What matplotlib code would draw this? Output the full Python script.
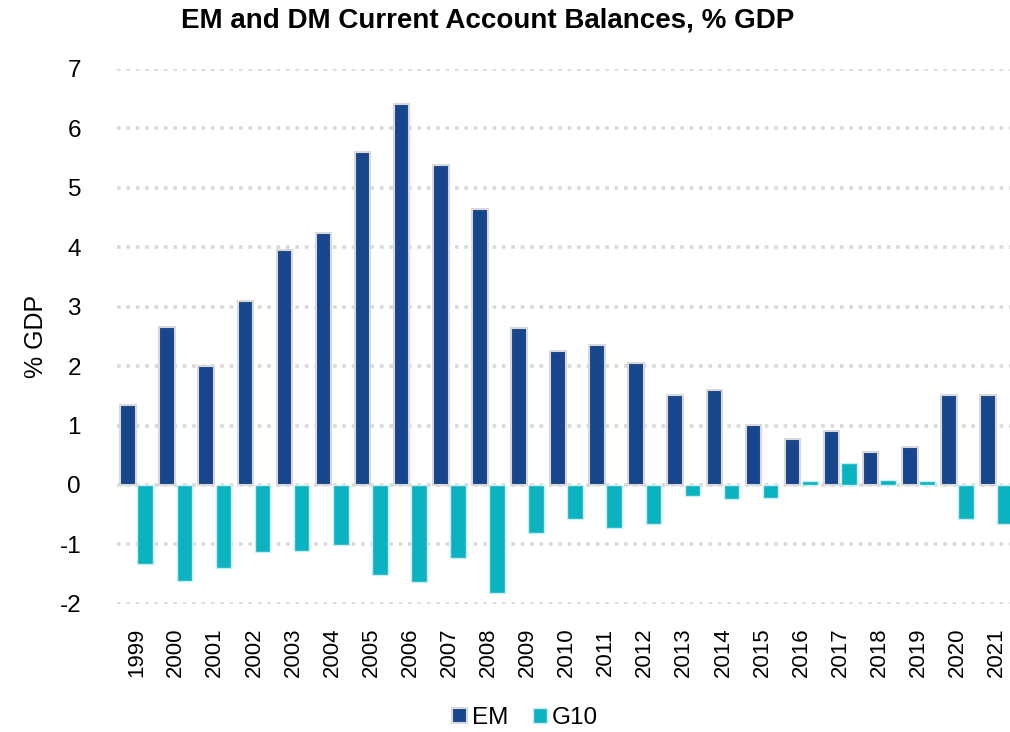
import numpy as np
import matplotlib.pyplot as plt

plt.rcParams['font.family'] = ['Liberation Sans', 'DejaVu Sans']
plt.rcParams['axes.unicode_minus'] = False

years = [str(y) for y in range(1999, 2022)]
em = [1.35, 2.66, 2.0, 3.1, 3.96, 4.23, 5.6, 6.4, 5.39, 4.65, 2.64, 2.25,
      2.36, 2.05, 1.52, 1.6, 1.01, 0.77, 0.91, 0.56, 0.64, 1.52, 1.52]
g10 = [-1.33, -1.62, -1.40, -1.13, -1.11, -1.01, -1.52, -1.64, -1.23, -1.82,
       -0.80, -0.57, -0.72, -0.66, -0.18, -0.24, -0.22, 0.07, 0.37, 0.08,
       0.06, -0.57, -0.66]

em_color = "#18468C"
g10_color = "#0BB2BF"

fig = plt.figure(figsize=(10.1, 7.32), dpi=100)
ax = fig.add_axes([0.116, 0.175, 0.89, 0.731])

x = np.arange(len(years))
w = 0.4
ax.bar(x - 0.22, em, w, color=em_color, edgecolor="#d9d9d9", linewidth=1.5,
       label="EM", zorder=3)
ax.bar(x + 0.22, g10, w, color=g10_color, edgecolor="#c8eef1", linewidth=1.0,
       label="G10", zorder=3)

ax.set_ylim(-2, 7)
ax.set_xlim(-0.5, len(years) - 0.5)
ax.set_yticks(range(-2, 8))
ax.set_xticks(x)
ax.set_xticklabels(years, rotation=90, fontsize=16)
ax.tick_params(axis="y", labelsize=17.5, length=0, pad=26)
ax.tick_params(axis="x", length=0, pad=17)

ax.grid(axis="y", color="#d9d9d9", linestyle=(0, (1, 1.6)), linewidth=2.6, zorder=0)
for s in ax.spines.values():
    s.set_visible(False)

ax.set_ylabel("% GDP", fontsize=18, labelpad=8)
fig.suptitle("EM and DM Current Account Balances, % GDP", fontsize=20,
             fontweight="bold", x=0.483, y=0.99)

ax.legend(loc="center", bbox_to_anchor=(0.454, -0.213), ncol=2,
          frameon=False, fontsize=17.5, handlelength=0.6, handleheight=0.6,
          handletextpad=0.2, columnspacing=1.0)

fig.savefig("out.png", dpi=100)
